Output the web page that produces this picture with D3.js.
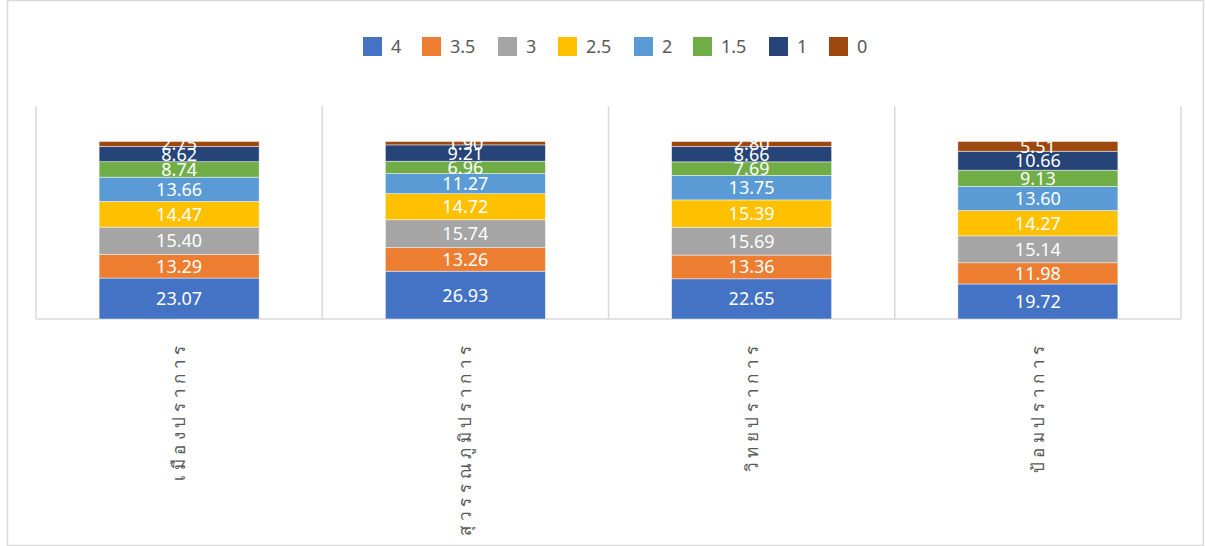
<!DOCTYPE html>
<html>
<head>
<meta charset="utf-8">
<script src="https://cdn.jsdelivr.net/npm/d3@7"></script>
<style>
  body { margin: 0; background: #fff; }
  svg { display: block; font-family: "Noto Sans", "DejaVu Sans", sans-serif; }
</style>
</head>
<body>
<div id="chart"></div>
<script>
// categories (x axis) and score levels (stack series)
const categories = ['เมืองปราการ', 'สุวรรณภูมิปราการ', 'วิทยปราการ', 'ป้อมปราการ'];
const levels = ['4', '3.5', '3', '2.5', '2', '1.5', '1', '0'];
const levelColors = ['#4472C4', '#ED7D31', '#A5A5A5', '#FFC000', '#5B9BD5', '#70AD47', '#264478', '#9E480E'];

// percentage per level, one array per level (order follows categories)
const s4 = [23.07, 26.93, 22.65, 19.72];
const s35 = [13.29, 13.26, 13.36, 11.98];
const s3 = [15.40, 15.74, 15.69, 15.14];
const s25 = [14.47, 14.72, 15.39, 14.27];
const s2 = [13.66, 11.27, 13.75, 13.60];
const s15 = [8.74, 6.96, 7.69, 9.13];
const s1 = [8.62, 9.21, 8.66, 10.66];
const s0 = [2.75, 1.90, 2.80, 5.51];

const seriesValues = [s4, s35, s3, s25, s2, s15, s1, s0];

const width = 1205;
const height = 546;
const plot = { left: 36, right: 1181, top: 106, bottom: 319 };

const table = categories.map((c, i) => {
  const row = { cat: c };
  levels.forEach((l, j) => { row[l] = seriesValues[j][i]; });
  return row;
});

const stacked = d3.stack().keys(levels)(table);

const svg = d3.select('#chart')
  .append('svg')
  .attr('width', width)
  .attr('height', height);

// outer chart border
svg.append('rect')
  .attr('x', 7.5)
  .attr('y', 0.5)
  .attr('width', width - 9)
  .attr('height', height - 1)
  .attr('fill', 'none')
  .attr('stroke', '#d9d9d9')
  .attr('stroke-width', 1.5);

const x = d3.scaleBand()
  .domain(categories)
  .range([plot.left, plot.right])
  .paddingInner(0)
  .paddingOuter(0);

const y = d3.scaleLinear()
  .domain([0, 120])
  .range([plot.bottom, plot.top]);

const color = d3.scaleOrdinal().domain(levels).range(levelColors);

// category separators (Excel-style tick lines spanning plot height)
const sepX = categories.map(c => x(c)).concat([plot.right]);
svg.append('g')
  .selectAll('line')
  .data(sepX)
  .join('line')
  .attr('x1', d => d)
  .attr('x2', d => d)
  .attr('y1', plot.top)
  .attr('y2', plot.bottom)
  .attr('stroke', '#d9d9d9')
  .attr('stroke-width', 1.5);

svg.append('line')
  .attr('x1', plot.left)
  .attr('x2', plot.right)
  .attr('y1', plot.bottom)
  .attr('y2', plot.bottom)
  .attr('stroke', '#d9d9d9')
  .attr('stroke-width', 1.5);

const barW = 160;
const barOff = (x.bandwidth() - barW) / 2;

const layers = svg.append('g')
  .selectAll('g')
  .data(stacked)
  .join('g')
  .attr('fill', d => color(d.key));

layers.selectAll('rect')
  .data(d => d)
  .join('rect')
  .attr('x', d => x(d.data.cat) + barOff)
  .attr('y', d => y(d[1]))
  .attr('width', barW)
  .attr('height', d => y(d[0]) - y(d[1]))
  .attr('stroke', 'rgba(255,255,255,0.6)')
  .attr('stroke-width', 0.75);

// data labels
layers.selectAll('text')
  .data(d => d)
  .join('text')
  .attr('x', d => x(d.data.cat) + x.bandwidth() / 2)
  .attr('y', d => (y(d[0]) + y(d[1])) / 2)
  .attr('dy', '0.36em')
  .attr('text-anchor', 'middle')
  .attr('fill', '#fff')
  .attr('font-size', '18px')
  .text(d => (d[1] - d[0]).toFixed(2));

// category labels, rotated
svg.append('g')
  .selectAll('text')
  .data(categories)
  .join('text')
  .attr('transform', d => `translate(${x(d) + x.bandwidth() / 2 + 6},${plot.bottom + 22}) rotate(-90)`)
  .attr('text-anchor', 'end')
  .attr('fill', '#595959')
  .attr('font-size', '17px')
  .attr('letter-spacing', '4.6px')
  .text(d => d);

// legend
const legendX = [363, 422, 498, 558, 634, 693, 769, 829];
const legend = svg.append('g')
  .selectAll('g')
  .data(levels)
  .join('g')
  .attr('transform', (d, i) => `translate(${legendX[i]},37)`);

legend.append('rect')
  .attr('width', 19)
  .attr('height', 19)
  .attr('fill', d => color(d));

legend.append('text')
  .attr('x', 28)
  .attr('y', 9.5)
  .attr('dy', '0.36em')
  .attr('fill', '#595959')
  .attr('font-size', '18px')
  .text(d => d);
</script>
</body>
</html>
